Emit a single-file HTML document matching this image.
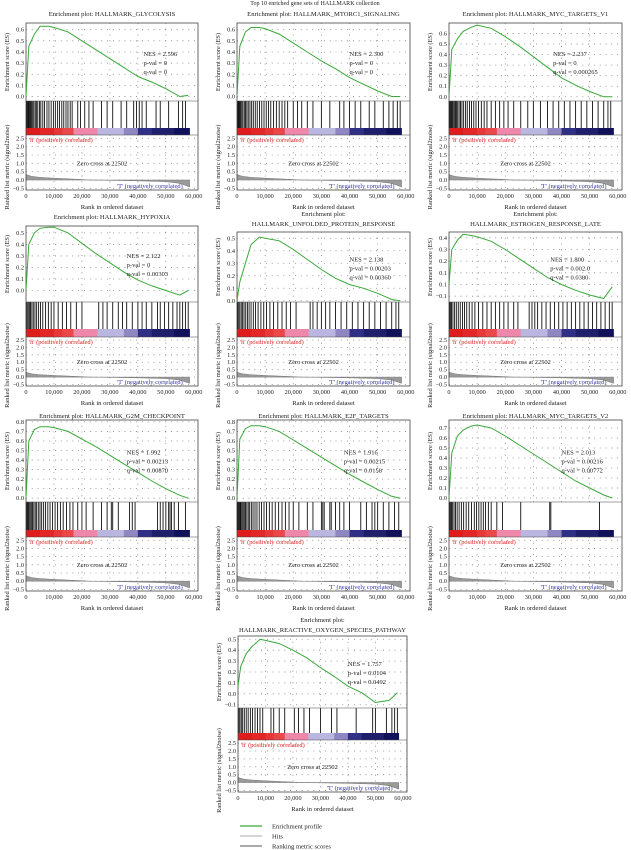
<!DOCTYPE html>
<html><head><meta charset="utf-8">
<style>
html,body{margin:0;padding:0;background:#fff;}
svg{display:block;font-family:"Liberation Serif",serif;}
</style></head>
<body>
<svg id="fig" width="631" height="850" viewBox="0 0 631 850" xmlns="http://www.w3.org/2000/svg">
<text x="315" y="5" font-size="6" text-anchor="middle" fill="#222">Top 10 enriched gene sets of HALLMARK collection</text>
</svg>
<script>
// ---- data arrays ----
const ranksK = [0,1,3,5,8,10,15,20,25,30,35,40,45,50,55,58];
const esGlycolysis = [0,0.45,0.56,0.63,0.63,0.62,0.58,0.50,0.42,0.34,0.26,0.18,0.13,0.07,0.0,0.01];
const esMtorc1 = [0,0.45,0.58,0.62,0.62,0.61,0.56,0.48,0.40,0.32,0.25,0.17,0.11,0.05,0.0,0.0];
const esMycV1 = [0,0.45,0.55,0.62,0.66,0.68,0.65,0.57,0.48,0.38,0.28,0.18,0.11,0.05,0.0,0.0];
const esHypoxia = [0,0.40,0.50,0.54,0.55,0.55,0.50,0.41,0.32,0.24,0.16,0.09,0.04,0.0,-0.04,0.0];
const esUpr = [0,0.15,0.30,0.45,0.51,0.50,0.48,0.41,0.33,0.25,0.18,0.13,0.10,0.06,0.01,0.0];
const esEstrogen = [0,0.30,0.38,0.43,0.42,0.41,0.37,0.30,0.22,0.14,0.06,0.0,-0.05,-0.09,-0.12,-0.02];
const esG2m = [0,0.60,0.72,0.75,0.75,0.74,0.70,0.62,0.54,0.45,0.36,0.27,0.18,0.10,0.03,0.0];
const esE2f = [0,0.62,0.73,0.76,0.76,0.75,0.70,0.61,0.52,0.43,0.34,0.25,0.17,0.09,0.02,0.0];
const esMycV2 = [0,0.45,0.62,0.68,0.72,0.73,0.70,0.62,0.53,0.44,0.35,0.26,0.17,0.10,0.03,0.0];
const esRos = [0.07,0.25,0.37,0.43,0.50,0.49,0.46,0.40,0.33,0.24,0.16,0.07,0.01,-0.08,-0.06,0.01];

const hitsA = [0.2,0.5,0.8,1,1.3,1.6,2,2.4,2.8,3.3,3.7,4.2,4.8,5.3,6,6.6,7.5,8.2,9,9.8,10.5,11.3,12,12.8,13.5,14.3,15,15.8,16.5,18.5,19.5,21,22.5,24,27,29,31,34,36,38.5,39.5,40.5,41.5,43,46.5,48,51,54.5,56,57];
const hitsB = [0.2,0.4,0.7,1,1.3,1.7,2.1,2.6,3,3.5,4,4.6,5.2,5.8,6.5,7.2,8,8.8,9.6,10.4,11.2,12,13,14,15,16,17,18,20,21.5,23,25,27,30,33,36.5,38,40,42,44,47,49,52,54,55.5,57,58];
const hitsC = [0.1,0.3,0.6,0.9,1.2,1.5,1.9,2.3,2.7,3.1,3.6,4.1,4.6,5.2,5.9,6.5,7.3,8,8.8,9.6,10.5,11.5,12.5,13.5,15,16.5,18,19.5,21,23,25.5,28,30,32.5,35,37,39,41,43,45,47,49,51,53,55,56.5,57.5];
const hitsD = [0.1,0.4,0.8,1.2,1.6,2.1,2.6,3.2,3.8,4.5,5.2,6,7,8,9,10,11.5,13,14.5,16,18,20,26,27.5,29,31,33,34.5,36,38,40,41.5,43,45,47,48,49.5,51,52.5,54,55,56,57,58];
const hitsE = [0.2,0.6,1,1.5,2,2.5,3.1,3.7,4.3,5,5.8,6.6,7.5,8.5,9.5,10.5,11.7,13,14.5,16,17.5,19,21,26,27,28.5,30,31.5,33,35,37,39,41,43,45,47,49,51,53,55,56.5,57.5];
const hitsF = [0.2,0.5,0.9,1.4,2,2.6,3.3,4,4.8,5.5,6.3,7.2,8.2,9.2,10.5,12,13.5,15,16.5,18,19.5,21,23,24.5,28.5,29.5,30.5,31.5,33,34.5,36,37.5,39,40.5,42,43.5,45,46.5,48,49.5,51,52.5,54,55.5,57,58];
const hitsG = [0.2,0.5,0.8,1.1,1.5,1.9,2.3,2.8,3.3,3.8,4.4,5,5.6,6.3,7,7.8,8.6,9.5,10.4,11.3,12.3,13.3,14.5,15.7,16.8,18.5,20,21.5,24,27,29,30.5,31,33,37,38,39,47,48,49,50,51,51.5,52,53,54.5,57];
const hitsH = [0.1,0.3,0.5,0.8,1.1,1.4,1.8,2.2,2.6,3,3.5,4,4.5,5.1,5.7,6.4,7.1,7.9,8.7,9.6,10.5,11.5,12.5,13.6,14.8,16,17.2,18.5,20,22,25,27,30,30.5,31,33,33.5,35,36.5,38,40,44,46,48,49,50,52,54,56,57.5];
const hitsI = [0.2,0.5,0.9,1.3,1.8,2.3,2.9,3.6,4.4,5.2,6.1,7,8,9,9.8,10.6,11.4,12.2,13,14,15,17,19,25.5,35.8,36.2,53.5];
const hitsJ = [0.3,0.7,1.2,1.7,2.3,3,3.7,4.5,5.3,6.2,7.1,8,9,12,13,15,17,20.5,22,24,26,30,34,36,43,49,50,54,56,57,58];

const metricRanksK = [0,0.5,2,5,10,15,20,22.5,30,40,50,55,58.5];
const metricVals = [0.35,0.3,0.22,0.16,0.11,0.07,0.03,0.0,-0.02,-0.05,-0.1,-0.2,-0.42];

const xTicksK = [0,10,20,30,40,50,60];
const xTickLabels = ["0","10,000","20,000","30,000","40,000","50,000","60,000"];
const metricTicks = [2.5,2.0,1.5,1.0,0.5,0.0,-0.5];
const metricTickLabels = ["2.5","2.0","1.5","1.0","0.5","0.0","\u22120.5"];

const cbStarts = [0,5,10,13,17,25.5,35,40,45,53];
const cbEnds = [5,10,13,17,25.5,35,40,45,53,58.5];
const cbColors = ["#e01b1b","#e32626","#e63838","#ea4848","#ee88aa","#b9b6df","#8f87c2","#2f2f86","#1f1f6c","#11115a"];

const panels = [
 {key:"glycolysis",title:["Enrichment plot: HALLMARK_GLYCOLYSIS"],es:esGlycolysis,hits:hitsA,ymin:-0.04,ymax:0.66,ticks:[0.6,0.5,0.4,0.3,0.2,0.1,0.0],stats:["NES = 2.596","p-val = 0","q-val = 0"],x0:26,x1:198,ty:16,top:23,esBot:101,cbTop:128,cbBot:135,bot:190,sx:42000},
 {key:"mtorc1",title:["Enrichment plot: HALLMARK_MTORC1_SIGNALING"],es:esMtorc1,hits:hitsB,ymin:-0.04,ymax:0.66,ticks:[0.6,0.5,0.4,0.3,0.2,0.1,0.0],stats:["NES = 2.300","p-val = 0","q-val = 0"],x0:237,x1:410,ty:16,top:23,esBot:101,cbTop:128,cbBot:135,bot:190,sx:40000},
 {key:"myc-v1",title:["Enrichment plot: HALLMARK_MYC_TARGETS_V1"],es:esMycV1,hits:hitsC,ymin:-0.04,ymax:0.70,ticks:[0.6,0.5,0.4,0.3,0.2,0.1,0.0],stats:["NES = 2.237","p-val = 0","q-val = 0.000265"],x0:449,x1:622,ty:16,top:23,esBot:101,cbTop:128,cbBot:135,bot:190,sx:37000},
 {key:"hypoxia",title:["Enrichment plot: HALLMARK_HYPOXIA"],es:esHypoxia,hits:hitsD,ymin:-0.10,ymax:0.56,ticks:[0.5,0.4,0.3,0.2,0.1,0.0],stats:["NES = 2.122","p-val = 0","q-val = 0.00303"],x0:26,x1:198,ty:219,top:226,esBot:302,cbTop:329,cbBot:337,bot:386,sx:36000},
 {key:"upr",title:["Enrichment plot:","HALLMARK_UNFOLDED_PROTEIN_RESPONSE"],es:esUpr,hits:hitsE,ymin:-0.01,ymax:0.55,ticks:[0.5,0.4,0.3,0.2,0.1,0.0],stats:["NES = 2.138","p-val = 0.00203","q-val = 0.00360"],x0:237,x1:410,ty:216,top:232,esBot:302,cbTop:329,cbBot:337,bot:386,sx:40000},
 {key:"estrogen-late",title:["Enrichment plot:","HALLMARK_ESTROGEN_RESPONSE_LATE"],es:esEstrogen,hits:hitsF,ymin:-0.15,ymax:0.45,ticks:[0.4,0.3,0.2,0.1,0.0,-0.1],tickLabels:["0.4","0.3","0.2","0.1","0.1","\u22120.1"],stats:["NES = 1.800","p-val = 0.002.0","q-val = 0.0380"],x0:449,x1:622,ty:216,top:232,esBot:302,cbTop:329,cbBot:337,bot:386,sx:36000},
 {key:"g2m",title:["Enrichment plot: HALLMARK_G2M_CHECKPOINT"],es:esG2m,hits:hitsG,ymin:-0.04,ymax:0.82,ticks:[0.8,0.7,0.6,0.5,0.4,0.3,0.2,0.1,0.0],stats:["NES = 1.992","p-val = 0.00213","q-val = 0.00870"],x0:26,x1:198,ty:418,top:420,esBot:502,cbTop:530,cbBot:537,bot:591,sx:36000},
 {key:"e2f",title:["Enrichment plot: HALLMARK_E2F_TARGETS"],es:esE2f,hits:hitsH,ymin:-0.04,ymax:0.82,ticks:[0.8,0.7,0.6,0.5,0.4,0.3,0.2,0.1,0.0],stats:["NES = 1.916","p-val = 0.00215","q-val = 0.0158"],x0:237,x1:410,ty:418,top:420,esBot:502,cbTop:530,cbBot:537,bot:591,sx:38000},
 {key:"myc-v2",title:["Enrichment plot: HALLMARK_MYC_TARGETS_V2"],es:esMycV2,hits:hitsI,ymin:-0.04,ymax:0.78,ticks:[0.7,0.6,0.5,0.4,0.3,0.2,0.1,0.0],stats:["NES = 2.013","p-val = 0.00216","q-val = 0.00772"],x0:449,x1:622,ty:418,top:420,esBot:502,cbTop:530,cbBot:537,bot:591,sx:40000},
 {key:"ros",title:["Enrichment plot:","HALLMARK_REACTIVE_OXYGEN_SPECIES_PATHWAY"],es:esRos,hits:hitsJ,ymin:-0.13,ymax:0.53,ticks:[0.5,0.4,0.3,0.2,0.1,0.0,-0.1],stats:["NES = 1.757","p-val = 0.0104","q-val = 0.0492"],x0:238,x1:407,ty:622,top:636,esBot:708,cbTop:733,cbBot:740,bot:792,sx:40000}
];

const NS = "http://www.w3.org/2000/svg";
const svg = document.getElementById("fig");
function mk(tag, attrs, parent, text){
  const e = document.createElementNS(NS, tag);
  for (const k in attrs) e.setAttribute(k, attrs[k]);
  if (text !== undefined) e.textContent = text;
  parent.appendChild(e);
  return e;
}
const XMAX = 61500;
const MMIN = -0.6, MMAX = 2.7;

panels.forEach(p => {
  const g = mk("g", {}, svg);
  
  
  const xs = r => p.x0 + (r / XMAX) * (p.x1 - p.x0);
  const ys = v => p.esBot - (v - p.ymin) / (p.ymax - p.ymin) * (p.esBot - p.top);
  const ym = v => p.bot - (v - MMIN) / (MMAX - MMIN) * (p.bot - p.cbBot);
  const cx = (p.x0 + p.x1) / 2;

  // title
  p.title.forEach((t, i) => {
    const tt = mk("text", {x: cx, y: p.ty + i * 10, "font-size": 6.6, "text-anchor": "middle", fill: "#222"}, g, t);
    
    
  });

  // grid
  xTicksK.forEach(k => {
    const x = xs(k * 1000);
    if (k > 0 && k < 60) {
      mk("line", {x1: x, y1: p.top, x2: x, y2: p.esBot, stroke: "#666", "stroke-width": 0.8, "stroke-dasharray": "0.8 5"}, g);
      mk("line", {x1: x, y1: p.cbBot, x2: x, y2: p.bot, stroke: "#666", "stroke-width": 0.8, "stroke-dasharray": "0.8 5"}, g);
    }
  });
  p.ticks.forEach(v => {
    mk("line", {x1: p.x0, y1: ys(v), x2: p.x1, y2: ys(v), stroke: "#666", "stroke-width": 0.8, "stroke-dasharray": "0.8 5"}, g);
  });
  metricTicks.forEach(v => {
    mk("line", {x1: p.x0, y1: ym(v), x2: p.x1, y2: ym(v), stroke: "#666", "stroke-width": 0.8, "stroke-dasharray": "0.8 5"}, g);
  });

  // ES tick labels
  p.ticks.forEach((v, i) => {
    const lab = p.tickLabels ? p.tickLabels[i] : (v < 0 ? "\u2212" + Math.abs(v).toFixed(1) : v.toFixed(1));
    mk("text", {x: p.x0 - 2, y: ys(v) + 2, "font-size": 6.3, "text-anchor": "end", fill: "#222"}, g, lab);
  });
  // metric tick labels
  metricTicks.forEach((v, i) => {
    mk("text", {x: p.x0 - 2, y: ym(v) + 2, "font-size": 6.3, "text-anchor": "end", fill: "#222"}, g, metricTickLabels[i]);
  });
  // x tick labels
  xTicksK.forEach((k, i) => {
    mk("text", {x: xs(k * 1000), y: p.bot + 8, "font-size": 6.3, "text-anchor": "middle", fill: "#222"}, g, xTickLabels[i]);
  });
  const xt = mk("text", {x: cx, y: p.bot + 19, "font-size": 6.6, "text-anchor": "middle", fill: "#222"}, g, "Rank in ordered dataset");
  
  
  const ya = mk("text", {x: 0, y: 0, "font-size": 6.4, "text-anchor": "middle", fill: "#222", transform: `translate(${p.x0 - 17},${(p.top + p.esBot) / 2}) rotate(-90)`}, g, "Enrichment score (ES)");
  
  
  const ym2 = mk("text", {x: 0, y: 0, "font-size": 6.4, "text-anchor": "middle", fill: "#222", transform: `translate(${p.x0 - 17},${(p.cbTop + p.bot) / 2 + 8}) rotate(-90)`}, g, "Ranked list metric (signal2noise)");
  
  

  // hits
  p.hits.forEach(h => {
    const l = mk("line", {x1: xs(h * 1000), y1: p.esBot, x2: xs(h * 1000), y2: p.cbTop, stroke: "#111", "stroke-width": 0.9}, g);
    
    
  });

  // colorbar
  cbStarts.forEach((s, i) => {
    const r = mk("rect", {x: xs(s * 1000), y: p.cbTop, width: xs(cbEnds[i] * 1000) - xs(s * 1000) + 0.3, height: p.cbBot - p.cbTop, fill: cbColors[i]}, g);
    
    
  });

  // metric area
  let d = `M${xs(0)},${ym(0)}`;
  metricRanksK.forEach((k, i) => { d += ` L${xs(k * 1000)},${ym(metricVals[i])}`; });
  d += ` L${xs(metricRanksK[metricRanksK.length - 1] * 1000)},${ym(0)} Z`;
  const area = mk("path", {d: d, fill: "#9a9a9a", stroke: "#777", "stroke-width": 0.5}, g);
  
  

  // frames
  mk("rect", {x: p.x0, y: p.top, width: p.x1 - p.x0, height: p.bot - p.top, fill: "none", stroke: "#444", "stroke-width": 0.8}, g);
  mk("line", {x1: p.x0, y1: p.esBot, x2: p.x1, y2: p.esBot, stroke: "#444", "stroke-width": 0.6}, g);
  mk("line", {x1: p.x0, y1: p.cbBot, x2: p.x1, y2: p.cbBot, stroke: "#444", "stroke-width": 0.6}, g);

  // ES curve
  const pts = ranksK.map((k, i) => `${xs(k * 1000).toFixed(1)},${ys(p.es[i]).toFixed(1)}`).join(" ");
  const pl = mk("polyline", {points: pts, fill: "none", stroke: "#3aa83a", "stroke-width": 1}, g);
  
  

  // stats
  p.stats.forEach((s, i) => {
    mk("text", {x: xs(p.sx), y: p.top + (p.esBot - p.top) * 0.42 + i * 9, "font-size": 6.5, fill: "#222"}, g, s);
  });

  // labels
  const hp = mk("text", {x: p.x0 + 3, y: p.cbBot + 7, "font-size": 6.4, fill: "#e02020"}, g, "'h' (positively correlated)");
  
  
  mk("text", {x: (p.x0 + p.x1) / 2 - 10, y: ym(1.0) + 2, "font-size": 6.4, "text-anchor": "middle", fill: "#222"}, g, "Zero cross at 22502");
  const tn = mk("text", {x: p.x0 + (p.x1 - p.x0) * 0.72, y: p.bot - 2, "font-size": 6.4, "text-anchor": "middle", fill: "#3a3aa0"}, g, "'T' (negatively correlated)");
  
  
});

// legend
const legend = mk("g", {}, svg);


const legLabels = ["Enrichment profile", "Hits", "Ranking metric scores"];
const legColors = ["#3aa83a", "#bbbbbb", "#777777"];
legLabels.forEach((t, i) => {
  const y = 826 + i * 10;
  mk("line", {x1: 240, y1: y, x2: 262, y2: y, stroke: legColors[i], "stroke-width": 1.2}, legend);
  const lt = mk("text", {x: 272, y: y + 2.5, "font-size": 6.6, fill: "#222"}, legend, t);
  
  
});
</script>
</body></html>
